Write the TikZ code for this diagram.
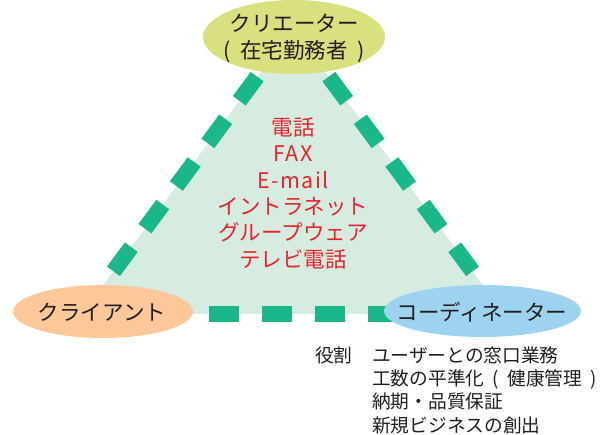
\documentclass[tikz,border=0pt]{standalone}
\usepackage{fontspec}
\setmainfont{Noto Sans CJK JP}
\newfontfamily\widelatin[LetterSpace=7]{Noto Sans CJK JP}
\usetikzlibrary{shapes.geometric}
\definecolor{trifill}{RGB}{214,236,224}
\definecolor{dashgreen}{RGB}{26,183,138}
\definecolor{creatorcol}{RGB}{217,225,126}
\definecolor{clientcol}{RGB}{253,200,153}
\definecolor{coordcol}{RGB}{158,211,240}
\definecolor{redtext}{RGB}{232,34,46}
\definecolor{inktext}{RGB}{35,30,30}
\tikzset{
  blob/.style={ellipse, draw=none, inner sep=0pt},
  edgeline/.style={draw=dashgreen, line width=16pt, dash pattern=on 30pt off 23pt, line cap=butt},
  lbl/.style={inner sep=0pt, text=inktext, font=\fontsize{21.5}{27}\selectfont, align=center},
  media/.style={inner sep=0pt, text=redtext, font=\fontsize{21.5}{26.3}\selectfont, align=center},
  role/.style={inner sep=0pt, text=inktext, font=\fontsize{18.7}{23.3}\selectfont, align=left},
}
\begin{document}
\begin{tikzpicture}[x=1pt,y=-1pt]
\useasboundingbox (0,0) rectangle (603,435);
\coordinate (A) at (293,28);
\coordinate (L) at (82,314);
\coordinate (R) at (504,314);
\fill[trifill] (A) -- (L) -- (R) -- cycle;
\draw[edgeline] (L) -- (A);
\draw[edgeline] (R) -- (A);
\draw[edgeline] (R) -- (L);
\node[blob, fill=creatorcol, minimum width=182pt, minimum height=74pt] (creator) at (294,37) {};
\node[blob, fill=clientcol, minimum width=180pt, minimum height=53pt] (client) at (103,311.5) {};
\node[blob, fill=coordcol, minimum width=197pt, minimum height=52pt] (coord) at (482.5,311) {};
\node[lbl] (creatorlbl) at (294,38.5) {クリエーター\\(\hspace{0.45em}在宅勤務者\hspace{0.45em})};
\node[lbl] (clientlbl) at (102,312) {クライアント};
\node[lbl] (coordlbl) at (482,312) {コーディネーター};
\node[media] (medialbl) at (293,193.3) {電話\\{\widelatin FAX}\\{\widelatin E-mail}\\イントラネット\\グループウェア\\テレビ電話};
\node[role, anchor=west] (rolehead) at (315,355) {役割};
\node[role, anchor=west] (rolelist) at (372,390) {ユーザーとの窓口業務\\工数の平準化\hspace{0.45em}(\hspace{0.45em}健康管理\hspace{0.45em})\\納期・品質保証\\新規ビジネスの創出};
\end{tikzpicture}
\end{document}
